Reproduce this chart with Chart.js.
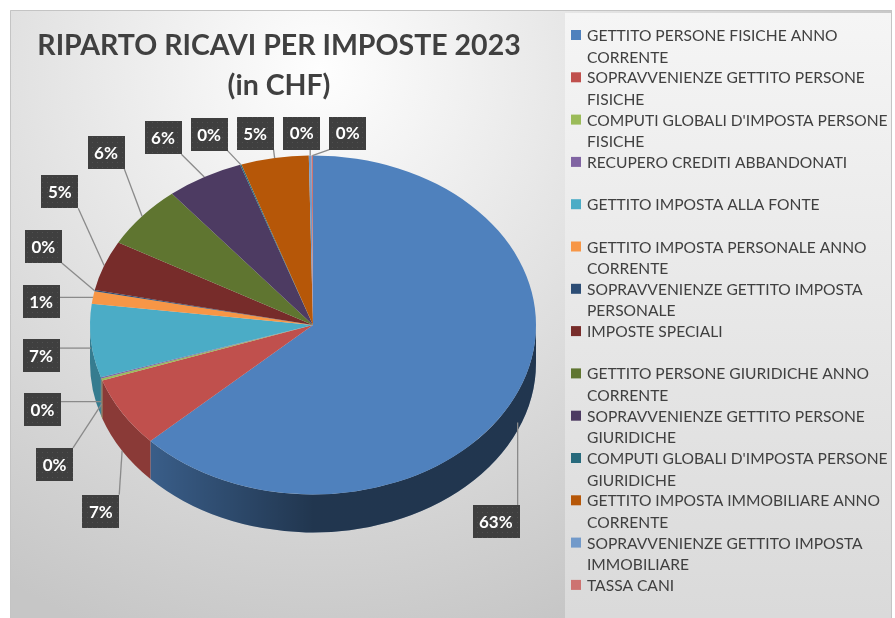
<!DOCTYPE html>
<html>
<head>
<meta charset="utf-8">
<script src="https://cdn.jsdelivr.net/npm/chart.js@4.4.1/dist/chart.umd.min.js"></script>
<style>
html, body { margin: 0; padding: 0; background: #fff; }
#wrap { position: relative; width: 895px; height: 618px; }
</style>
</head>
<body>
<div id="wrap"><canvas id="pie"></canvas></div>
<script>
// Data (shares in %)
const titleLines = ['RIPARTO RICAVI PER IMPOSTE 2023', '(in CHF)'];
const categories = [
    'GETTITO PERSONE FISICHE ANNO CORRENTE',
    'SOPRAVVENIENZE GETTITO PERSONE FISICHE',
    "COMPUTI GLOBALI D'IMPOSTA PERSONE FISICHE",
    'RECUPERO CREDITI ABBANDONATI',
    'GETTITO IMPOSTA ALLA FONTE',
    'GETTITO IMPOSTA PERSONALE ANNO CORRENTE',
    'SOPRAVVENIENZE GETTITO IMPOSTA PERSONALE',
    'IMPOSTE SPECIALI',
    'GETTITO PERSONE GIURIDICHE ANNO CORRENTE',
    'SOPRAVVENIENZE GETTITO PERSONE GIURIDICHE',
    "COMPUTI GLOBALI D'IMPOSTA PERSONE GIURIDICHE",
    'GETTITO IMPOSTA IMMOBILIARE ANNO CORRENTE',
    'SOPRAVVENIENZE GETTITO IMPOSTA IMMOBILIARE',
    'TASSA CANI'
];
const shares = [63.0, 6.7, 0.2, 0.1, 7.0, 1.2, 0.1, 4.8, 6.0, 5.6, 0.1, 4.9, 0.2, 0.1];
const sliceColors = [
    '#4f81bd', '#c0504d', '#9bbb59', '#8064a2', '#4bacc6', '#f79646', '#2c4d75',
    '#772c2a', '#5f7530', '#4d3b62', '#276a7c', '#b65708', '#729aca', '#cd7371'
];

const TILT = 0.76;   // vertical squash of the pie top face
const DEPTH = 38;    // height of the pie side, px
const TEXT = '#404040';
const FONT = 'Lato, "Open Sans", sans-serif';

function darken(hex, f) {
    const n = parseInt(hex.slice(1), 16);
    const r = (n >> 16) & 255, g = (n >> 8) & 255, b = n & 255;
    return `rgb(${Math.round(r * f)},${Math.round(g * f)},${Math.round(b * f)})`;
}

// Frame, background gradient and legend panel
const framePlugin = {
    id: 'frame',
    beforeDraw(chart) {
        const ctx = chart.ctx;
        ctx.save();
        ctx.fillStyle = '#fff';
        ctx.fillRect(0, 0, chart.width, chart.height);
        const g = ctx.createRadialGradient(320, 70, 0, 320, 70, 600);
        g.addColorStop(0, '#fefefe');
        g.addColorStop(1, '#c6c6c6');
        ctx.fillStyle = g;
        ctx.fillRect(10, 10, 882, 608);
        const lg = ctx.createLinearGradient(0, 14, 0, 614);
        lg.addColorStop(0, '#f5f5f5');
        lg.addColorStop(1, '#dadada');
        ctx.fillStyle = lg;
        ctx.fillRect(565, 13, 326, 605);
        ctx.strokeStyle = '#c4c4c4';
        ctx.lineWidth = 1;
        ctx.beginPath();
        ctx.moveTo(10.5, 618);
        ctx.lineTo(10.5, 10.5);
        ctx.lineTo(891.5, 10.5);
        ctx.lineTo(891.5, 618);
        ctx.stroke();
        ctx.restore();
    }
};

// Squash the pie into an ellipse and draw its side wall
const pie3dPlugin = {
    id: 'pie3d',
    beforeDatasetsDraw(chart) {
        const ctx = chart.ctx;
        const arcs = chart.getDatasetMeta(0).data;
        ctx.save();
        if (!arcs.length) return;
        const cy = arcs[0].y;
        ctx.translate(0, cy * (1 - TILT));
        ctx.scale(1, TILT);
        const d = DEPTH / TILT;
        arcs.forEach((arc, i) => {
            const p = arc.getProps(['x', 'y', 'startAngle', 'endAngle', 'outerRadius'], true);
            const a = Math.max(p.startAngle, 0);
            const b = Math.min(p.endAngle, Math.PI);
            if (b <= a) return;
            ctx.beginPath();
            ctx.arc(p.x, p.y, p.outerRadius, a, b);
            ctx.arc(p.x, p.y + d, p.outerRadius, b, a, true);
            ctx.closePath();
            ctx.fillStyle = darken(sliceColors[i], 0.72);
            ctx.fill();
            const g = ctx.createLinearGradient(p.x - p.outerRadius * 0.72, 0, p.x, 0);
            g.addColorStop(0, 'rgba(0,0,0,0)');
            g.addColorStop(1, 'rgba(0,0,0,0.42)');
            ctx.fillStyle = g;
            ctx.fill();
        });
    },
    afterDatasetsDraw(chart) {
        chart.ctx.restore();
    }
};

// Title, legend and percentage labels
const overlayPlugin = {
    id: 'overlay',
    afterDraw(chart) {
        const ctx = chart.ctx;
        const arcs = chart.getDatasetMeta(0).data;
        if (!arcs.length) return;
        ctx.save();

        // title
        ctx.fillStyle = TEXT;
        ctx.textAlign = 'center';
        ctx.textBaseline = 'middle';
        ctx.font = `bold 28px ${FONT}`;
        const tSize = 28 * 483 / ctx.measureText(titleLines[0]).width;
        ctx.font = `bold ${tSize.toFixed(1)}px ${FONT}`;
        ctx.fillText(titleLines[0], 279, 46);
        ctx.fillText(titleLines[1], 279, 86);

        // legend
        ctx.font = `15px ${FONT}`;
        const lSize = 15 * 301 / ctx.measureText("COMPUTI GLOBALI D'IMPOSTA PERSONE").width;
        ctx.font = `${lSize.toFixed(1)}px ${FONT}`;
        ctx.textAlign = 'left';
        categories.forEach((label, i) => {
            const y = 35 + i * 42.3;
            ctx.fillStyle = sliceColors[i];
            ctx.fillRect(571, y - 5, 10, 10);
            ctx.fillStyle = TEXT;
            const words = label.split(' ');
            const lines = [];
            let cur = '';
            words.forEach(w => {
                const test = cur ? cur + ' ' + w : w;
                if (ctx.measureText(test).width > 304 && cur) {
                    lines.push(cur);
                    cur = w;
                } else {
                    cur = test;
                }
            });
            lines.push(cur);
            lines.forEach((ln, k) => ctx.fillText(ln, 587, y + 1 + k * 21.5));
        });

        // percentage labels, spread around a rounded ring outside the pie
        const total = shares.reduce((s, v) => s + v, 0);
        const cx = arcs[0].x, cy = arcs[0].y, r = arcs[0].outerRadius;
        ctx.font = `bold 17px ${FONT}`;
        const ring = {x: 272, top: 200, bottom: 200, dy: 8};
        const ringPoint = psi => {
            const c = Math.cos(psi), s = Math.sin(psi);
            const b = s < 0 ? ring.top : ring.bottom;
            const t = 1 / Math.pow(Math.pow(Math.abs(c) / ring.x, 4) + Math.pow(Math.abs(s) / b, 4), 0.25);
            return {x: cx + t * c, y: cy + ring.dy + t * s};
        };
        const items = arcs.map((arc, i) => {
            const mid = (arc.startAngle + arc.endAngle) / 2;
            const text = Math.round(shares[i] / total * 100) + '%';
            const sy = Math.sin(mid);
            let psi = Math.atan2(TILT * sy, Math.cos(mid));
            while (psi < mid - Math.PI) psi += 2 * Math.PI;
            while (psi > mid + Math.PI) psi -= 2 * Math.PI;
            return {
                text,
                w: ctx.measureText(text).width + 13,
                h: 33,
                ax: cx + r * Math.cos(mid),
                ay: cy + TILT * r * sy + (sy > 0 ? DEPTH * Math.min(1, sy * 2) : 0),
                psi
            };
        });
        const place = it => Object.assign(it, ringPoint(it.psi));
        items.forEach(place);
        const maxX = chart.chartArea.right - 16;
        for (let iter = 0; iter < 6000; iter++) {
            let moved = false;
            items.forEach(it => {
                if (it.x + it.w / 2 > maxX) { it.psi += 0.004; place(it); moved = true; }
            });
            for (let i = 0; i < items.length; i++) {
                const A = items[i], B = items[(i + 1) % items.length];
                if (Math.abs(A.x - B.x) < (A.w + B.w) / 2 + 9 &&
                    Math.abs(A.y - B.y) < (A.h + B.h) / 2 + 21) {
                    A.psi -= 0.002; B.psi += 0.002;
                    place(A); place(B);
                    moved = true;
                }
            }
            if (!moved) break;
        }

        // dotted box fill
        const tile = document.createElement('canvas');
        tile.width = 5; tile.height = 5;
        const tc = tile.getContext('2d');
        tc.fillStyle = '#3f3f3f';
        tc.fillRect(0, 0, 5, 5);
        tc.fillStyle = '#505050';
        tc.fillRect(2, 2, 1, 1);
        const pattern = ctx.createPattern(tile, 'repeat');

        ctx.strokeStyle = '#8a8a8a';
        ctx.lineWidth = 1.3;
        items.forEach(it => {
            const px = Math.min(Math.max(it.ax, it.x - it.w / 2), it.x + it.w / 2);
            const py = Math.min(Math.max(it.ay, it.y - it.h / 2), it.y + it.h / 2);
            ctx.beginPath();
            ctx.moveTo(px, py);
            ctx.lineTo(it.ax, it.ay);
            ctx.stroke();
        });
        ctx.textAlign = 'center';
        items.forEach(it => {
            ctx.fillStyle = pattern;
            ctx.fillRect(Math.round(it.x - it.w / 2), Math.round(it.y - it.h / 2), Math.round(it.w), it.h);
            ctx.fillStyle = '#fff';
            ctx.fillText(it.text, it.x, it.y + 1);
        });
        ctx.restore();
    }
};

new Chart(document.getElementById('pie'), {
    type: 'pie',
    data: {
        labels: categories,
        datasets: [{
            data: shares,
            backgroundColor: sliceColors,
            borderWidth: 0,
            hoverOffset: 0
        }]
    },
    options: {
        responsive: true,
        maintainAspectRatio: false,
        animation: false,
        events: [],
        layout: {padding: {left: 90, right: 359, top: 102, bottom: 70}},
        plugins: {
            legend: {display: false},
            title: {display: false},
            tooltip: {enabled: false}
        }
    },
    plugins: [framePlugin, pie3dPlugin, overlayPlugin]
});
</script>
</body>
</html>
